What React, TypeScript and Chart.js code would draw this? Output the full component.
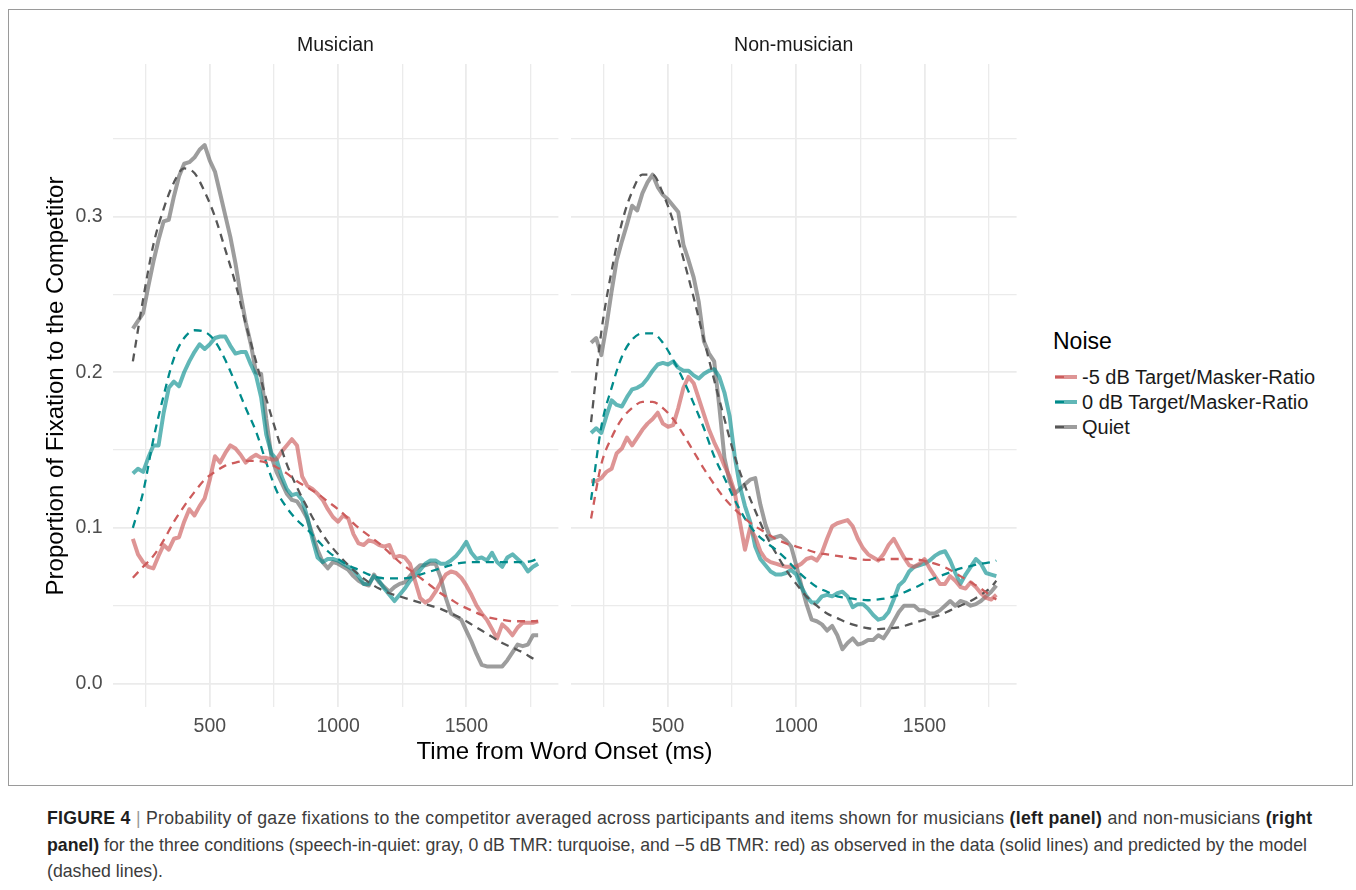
import React, { useEffect, useRef } from "react";
import { Chart, registerables } from "chart.js";

Chart.register(...registerables);

const FONT = "'Liberation Sans', Arial, Helvetica, sans-serif";

// ---------- data ----------
const panelNames = ["Musician", "Non-musician"];
const conditionLabels = ["-5 dB Target/Masker-Ratio", "0 dB Target/Masker-Ratio", "Quiet"];
const xTickLabels = [500, 1000, 1500];
const xGridTicks = [250, 500, 750, 1000, 1250, 1500, 1750];
const yTickLabels = [0.0, 0.1, 0.2, 0.3];
const yGridTicks = [0.0, 0.05, 0.1, 0.15, 0.2, 0.25, 0.3, 0.35];

const obsTime = [
  200, 220, 240, 260, 280, 300, 320, 340, 360, 380,
  400, 420, 440, 460, 480, 500, 520, 540, 560, 580,
  600, 620, 640, 660, 680, 700, 720, 740, 760, 780,
  800, 820, 840, 860, 880, 900, 920, 940, 960, 980,
  1000, 1020, 1040, 1060, 1080, 1100, 1120, 1140, 1160, 1180,
  1200, 1220, 1240, 1260, 1280, 1300, 1320, 1340, 1360, 1380,
  1400, 1420, 1440, 1460, 1480, 1500, 1520, 1540, 1560, 1580,
  1600, 1620, 1640, 1660, 1680, 1700, 1720, 1740, 1760, 1780,
];

const fitTime = [
  200, 240, 280, 320, 360, 400, 440, 480, 520, 560,
  600, 640, 680, 720, 760, 800, 840, 880, 920, 960,
  1000, 1040, 1080, 1120, 1160, 1200, 1240, 1280, 1320, 1360,
  1400, 1440, 1480, 1520, 1560, 1600, 1640, 1680, 1720, 1760,
  1780,
];

// Musician – observed
const musM5Obs = [
  0.093, 0.083, 0.078, 0.075, 0.074, 0.082, 0.089, 0.086, 0.093, 0.094,
  0.104, 0.112, 0.108, 0.114, 0.119, 0.131, 0.146, 0.142, 0.148, 0.153,
  0.151, 0.147, 0.142, 0.145, 0.147, 0.145, 0.145, 0.144, 0.144, 0.149,
  0.153, 0.157, 0.153, 0.133, 0.127, 0.125, 0.122, 0.118, 0.112, 0.107,
  0.104, 0.108, 0.106, 0.096, 0.090, 0.089, 0.092, 0.091, 0.089, 0.088,
  0.089, 0.081, 0.082, 0.081, 0.077, 0.066, 0.055, 0.052, 0.054, 0.059,
  0.065, 0.070, 0.072, 0.071, 0.068, 0.063, 0.057, 0.050, 0.045, 0.041,
  0.035, 0.029, 0.038, 0.035, 0.031, 0.036, 0.039, 0.039, 0.039, 0.040,
];
const mus0Obs = [
  0.135, 0.138, 0.136, 0.145, 0.153, 0.153, 0.174, 0.190, 0.194, 0.191,
  0.200, 0.207, 0.213, 0.218, 0.215, 0.218, 0.222, 0.223, 0.223, 0.217,
  0.212, 0.213, 0.213, 0.205, 0.198, 0.184, 0.160, 0.148, 0.144, 0.133,
  0.125, 0.121, 0.122, 0.118, 0.107, 0.093, 0.081, 0.078, 0.080, 0.080,
  0.079, 0.077, 0.075, 0.073, 0.069, 0.064, 0.064, 0.069, 0.066, 0.061,
  0.057, 0.053, 0.057, 0.061, 0.066, 0.069, 0.073, 0.077, 0.079, 0.079,
  0.077, 0.077, 0.079, 0.082, 0.086, 0.091, 0.084, 0.080, 0.081, 0.079,
  0.084, 0.078, 0.075, 0.081, 0.083, 0.080, 0.077, 0.072, 0.075, 0.077,
];
const musQuietObs = [
  0.228, 0.233, 0.238, 0.255, 0.271, 0.285, 0.297, 0.298, 0.313, 0.326,
  0.334, 0.335, 0.338, 0.343, 0.346, 0.336, 0.329, 0.315, 0.301, 0.287,
  0.270, 0.250, 0.232, 0.218, 0.200, 0.199, 0.170, 0.146, 0.136, 0.129,
  0.122, 0.118, 0.117, 0.112, 0.106, 0.096, 0.086, 0.078, 0.074, 0.078,
  0.077, 0.075, 0.073, 0.069, 0.066, 0.064, 0.063, 0.070, 0.065, 0.062,
  0.059, 0.062, 0.064, 0.065, 0.069, 0.073, 0.076, 0.076, 0.077, 0.077,
  0.068, 0.055, 0.045, 0.043, 0.041, 0.034, 0.027, 0.019, 0.012, 0.011,
  0.011, 0.011, 0.011, 0.015, 0.020, 0.025, 0.024, 0.025, 0.031, 0.031,
];

// Musician – model
const musM5Fit = [
  0.068, 0.075, 0.082, 0.092, 0.104, 0.114, 0.123, 0.131, 0.136, 0.140,
  0.142, 0.143, 0.143, 0.142, 0.139, 0.135, 0.130, 0.126, 0.122, 0.117,
  0.112, 0.106, 0.100, 0.095, 0.090, 0.084, 0.078, 0.073, 0.068, 0.063,
  0.058, 0.054, 0.050, 0.047, 0.044, 0.042, 0.041, 0.040, 0.040, 0.040,
  0.040,
];
const mus0Fit = [
  0.100, 0.123, 0.157, 0.185, 0.209, 0.222, 0.227, 0.226, 0.220, 0.208,
  0.193, 0.177, 0.162, 0.142, 0.124, 0.113, 0.105, 0.099, 0.092, 0.085,
  0.080, 0.076, 0.073, 0.070, 0.068, 0.0675, 0.0675, 0.068, 0.070, 0.072,
  0.074, 0.076, 0.0775, 0.078, 0.078, 0.078, 0.078, 0.078, 0.078, 0.079,
  0.0805,
];
const musQuietFit = [
  0.207, 0.247, 0.282, 0.305, 0.322, 0.331, 0.328, 0.316, 0.300, 0.279,
  0.257, 0.231, 0.207, 0.183, 0.161, 0.141, 0.126, 0.113, 0.101, 0.091,
  0.083, 0.076, 0.070, 0.065, 0.061, 0.058, 0.056, 0.054, 0.052, 0.050,
  0.048, 0.045, 0.042, 0.038, 0.034, 0.030, 0.026, 0.023, 0.020, 0.016,
  0.0145,
];

// Non-musician – observed
const nonM5Obs = [
  0.130, 0.130, 0.132, 0.136, 0.138, 0.148, 0.151, 0.158, 0.153, 0.158,
  0.163, 0.167, 0.170, 0.174, 0.167, 0.165, 0.166, 0.177, 0.190, 0.197,
  0.193, 0.183, 0.173, 0.163, 0.155, 0.148, 0.140, 0.133, 0.123, 0.104,
  0.086, 0.100, 0.094, 0.085, 0.080, 0.078, 0.077, 0.076, 0.075, 0.075,
  0.075, 0.077, 0.080, 0.081, 0.079, 0.084, 0.093, 0.101, 0.103, 0.104,
  0.105, 0.101, 0.093, 0.087, 0.083, 0.081, 0.079, 0.083, 0.089, 0.093,
  0.087, 0.081, 0.076, 0.075, 0.077, 0.080, 0.074, 0.069, 0.064, 0.064,
  0.069, 0.066, 0.062, 0.061, 0.065, 0.062, 0.058, 0.055, 0.054, 0.057,
];
const non0Obs = [
  0.161, 0.164, 0.161, 0.172, 0.182, 0.179, 0.178, 0.184, 0.189, 0.190,
  0.192, 0.196, 0.201, 0.205, 0.206, 0.205, 0.207, 0.203, 0.201, 0.201,
  0.198, 0.196, 0.199, 0.201, 0.202, 0.197, 0.187, 0.172, 0.146, 0.127,
  0.114, 0.104, 0.088, 0.080, 0.076, 0.072, 0.070, 0.070, 0.071, 0.073,
  0.070, 0.062, 0.056, 0.052, 0.052, 0.056, 0.057, 0.056, 0.058, 0.059,
  0.056, 0.049, 0.051, 0.051, 0.048, 0.044, 0.041, 0.042, 0.046, 0.054,
  0.063, 0.066, 0.072, 0.075, 0.076, 0.077, 0.079, 0.082, 0.084, 0.085,
  0.079, 0.071, 0.064, 0.070, 0.075, 0.080, 0.077, 0.071, 0.070, 0.069,
];
const nonQuietObs = [
  0.219, 0.222, 0.211, 0.230, 0.252, 0.272, 0.284, 0.295, 0.307, 0.304,
  0.315, 0.322, 0.327, 0.319, 0.314, 0.311, 0.307, 0.303, 0.282, 0.272,
  0.261, 0.245, 0.220, 0.212, 0.207, 0.178, 0.145, 0.130, 0.122, 0.125,
  0.128, 0.131, 0.132, 0.115, 0.102, 0.093, 0.094, 0.095, 0.092, 0.088,
  0.076, 0.063, 0.051, 0.041, 0.040, 0.038, 0.034, 0.037, 0.031, 0.022,
  0.026, 0.029, 0.025, 0.026, 0.028, 0.028, 0.031, 0.029, 0.034, 0.040,
  0.046, 0.050, 0.050, 0.050, 0.047, 0.047, 0.045, 0.045, 0.047, 0.050,
  0.053, 0.050, 0.053, 0.052, 0.050, 0.051, 0.053, 0.056, 0.059, 0.063,
];

// Non-musician – model
const nonM5Fit = [
  0.106, 0.141, 0.158, 0.170, 0.177, 0.181, 0.181, 0.177, 0.170, 0.160,
  0.149, 0.138, 0.128, 0.119, 0.112, 0.106, 0.101, 0.097, 0.093, 0.090,
  0.088, 0.086, 0.084, 0.083, 0.082, 0.081, 0.080, 0.0795, 0.0795, 0.080,
  0.080, 0.080, 0.0795, 0.078, 0.076, 0.073, 0.069, 0.065, 0.061, 0.056,
  0.054,
];
const non0Fit = [
  0.118, 0.165, 0.190, 0.210, 0.221, 0.225, 0.225, 0.219, 0.208, 0.195,
  0.180, 0.164, 0.146, 0.132, 0.118, 0.106, 0.097, 0.091, 0.086, 0.080,
  0.073, 0.067, 0.062, 0.059, 0.056, 0.055, 0.054, 0.0535, 0.054, 0.055,
  0.057, 0.060, 0.063, 0.0665, 0.069, 0.0715, 0.074, 0.0755, 0.077, 0.078,
  0.079,
];
const nonQuietFit = [
  0.168, 0.226, 0.265, 0.296, 0.316, 0.327, 0.327, 0.315, 0.297, 0.273,
  0.248, 0.221, 0.195, 0.170, 0.146, 0.127, 0.111, 0.096, 0.084, 0.073,
  0.064, 0.056, 0.050, 0.045, 0.042, 0.039, 0.037, 0.0355, 0.035, 0.0355,
  0.036, 0.038, 0.040, 0.042, 0.044, 0.047, 0.050, 0.053, 0.057, 0.062,
  0.066,
];

// ---------- styles ----------
const OBS_COLORS = ["rgba(205,92,92,0.65)", "rgba(0,139,139,0.62)", "rgba(105,105,105,0.65)"];
const FIT_COLORS = ["#CD5C5C", "#008B8B", "#575757"];

const X_MIN = 121;
const X_MAX = 1859;
const Y_MIN = -0.0151;
const Y_MAX = 0.3981;

function toPoints(times: number[], vals: number[]) {
  return times.map((t, i) => ({ x: t, y: vals[i] }));
}

function buildDatasets(obs: number[][], fit: number[][]) {
  const ds: any[] = [];
  fit.forEach((vals, i) => {
    ds.push({
      label: conditionLabels[i] + " (model)",
      data: toPoints(fitTime, vals),
      borderColor: FIT_COLORS[i],
      borderWidth: 2.3,
      borderDash: [8, 6],
      cubicInterpolationMode: "monotone",
      pointRadius: 0,
      fill: false,
      order: 0,
    });
  });
  obs.forEach((vals, i) => {
    ds.push({
      label: conditionLabels[i],
      data: toPoints(obsTime, vals),
      borderColor: OBS_COLORS[i],
      borderWidth: 4,
      borderJoinStyle: "round",
      tension: 0,
      pointRadius: 0,
      fill: false,
      order: 1,
    });
  });
  return ds;
}

const isMajorX = (v: number) => xTickLabels.indexOf(Math.round(v)) >= 0;
const isMajorY = (v: number) => yTickLabels.some((t) => Math.abs(t - v) < 1e-6);

function makeConfig(datasets: any[], showY: boolean, yWidth: number, padRight: number): any {
  return {
    type: "line",
    data: { datasets },
    options: {
      animation: false,
      responsive: false,
      maintainAspectRatio: false,
      devicePixelRatio: 1,
      layout: { padding: { top: 34, right: padRight, bottom: 0, left: 0 } },
      plugins: { legend: { display: false }, tooltip: { enabled: false } },
      elements: { point: { radius: 0 } },
      scales: {
        x: {
          type: "linear",
          min: X_MIN,
          max: X_MAX,
          border: { display: false },
          grid: {
            color: "#EBEBEB",
            drawTicks: false,
            lineWidth: (ctx: any) => (ctx.tick && isMajorX(ctx.tick.value) ? 1.8 : 1.3),
          },
          afterBuildTicks: (s: any) => {
            s.ticks = xGridTicks.map((v) => ({ value: v }));
          },
          ticks: {
            autoSkip: false,
            maxRotation: 0,
            padding: 7.6,
            color: "#4D4D4D",
            font: { family: FONT, size: 19.5 },
            callback: (v: any) => (isMajorX(Number(v)) ? String(Math.round(Number(v))) : ""),
          },
          afterFit: (s: any) => {
            s.height = 43;
          },
        },
        y: {
          type: "linear",
          min: Y_MIN,
          max: Y_MAX,
          border: { display: false },
          grid: {
            color: "#EBEBEB",
            drawTicks: false,
            lineWidth: (ctx: any) => (ctx.tick && isMajorY(ctx.tick.value) ? 1.8 : 1.3),
          },
          afterBuildTicks: (s: any) => {
            s.ticks = yGridTicks.map((v) => ({ value: v }));
          },
          ticks: {
            display: showY,
            autoSkip: false,
            padding: 10,
            color: "#4D4D4D",
            font: { family: FONT, size: 19.5 },
            callback: (v: any) => (isMajorY(Number(v)) ? Math.abs(Number(v)).toFixed(1) : ""),
          },
          afterFit: (s: any) => {
            s.width = yWidth;
          },
        },
      },
    },
  };
}

const abs = (l: number, t: number, extra: React.CSSProperties = {}): React.CSSProperties => ({
  position: "absolute",
  left: l,
  top: t,
  ...extra,
});

const BOLD: React.CSSProperties = { color: "#1E1E1E", fontWeight: 700 };

export default function App() {
  const leftRef = useRef<HTMLCanvasElement | null>(null);
  const rightRef = useRef<HTMLCanvasElement | null>(null);

  useEffect(() => {
    const charts: Chart[] = [];
    if (leftRef.current) {
      charts.push(
        new Chart(
          leftRef.current,
          makeConfig(
            buildDatasets([musM5Obs, mus0Obs, musQuietObs], [musM5Fit, mus0Fit, musQuietFit]),
            true,
            72.6,
            3.6
          )
        )
      );
    }
    if (rightRef.current) {
      charts.push(
        new Chart(
          rightRef.current,
          makeConfig(
            buildDatasets([nonM5Obs, non0Obs, nonQuietObs], [nonM5Fit, non0Fit, nonQuietFit]),
            false,
            10.8,
            5.4
          )
        )
      );
    }
    return () => charts.forEach((c) => c.destroy());
  }, []);

  const legendRowsTop = [366.7, 391.7, 416.7];

  return (
    <div
      style={{
        position: "absolute",
        left: 0,
        top: 0,
        width: 1356,
        height: 890,
        background: "#ffffff",
        overflow: "hidden",
        fontFamily: FONT,
      }}
    >
      {/* figure frame */}
      <div style={abs(8, 9, { width: 1343, height: 775, border: "1px solid #9a9a9a" })} />

      <canvas ref={leftRef} width={522} height={720} style={abs(40, 30, { width: 522, height: 720 })} />
      <canvas ref={rightRef} width={462} height={720} style={abs(560, 30, { width: 462, height: 720 })} />

      {/* strip labels */}
      <div style={abs(135.5, 35, { width: 400, textAlign: "center", fontSize: 19.5, lineHeight: "19.5px", color: "#1A1A1A" })}>
        {panelNames[0]}
      </div>
      <div style={abs(593.7, 35, { width: 400, textAlign: "center", fontSize: 19.5, lineHeight: "19.5px", color: "#1A1A1A" })}>
        {panelNames[1]}
      </div>

      {/* axis titles */}
      <div
        style={abs(55 - 300, 385.5 - 12, {
          width: 600,
          height: 24,
          lineHeight: "24px",
          fontSize: 24,
          textAlign: "center",
          color: "#000",
          transform: "rotate(-90deg)",
          transformOrigin: "50% 50%",
          whiteSpace: "nowrap",
        })}
      >
        Proportion of Fixation to the Competitor
      </div>
      <div
        style={abs(564.6 - 300, 738.7, {
          width: 600,
          lineHeight: "24px",
          fontSize: 24,
          textAlign: "center",
          color: "#000",
          whiteSpace: "nowrap",
        })}
      >
        Time from Word Onset (ms)
      </div>

      {/* legend */}
      <div style={abs(1053, 330.2, { fontSize: 23, lineHeight: "23px", color: "#000" })}>Noise</div>
      {conditionLabels.map((lab, i) => (
        <React.Fragment key={lab}>
          <div style={abs(1055, legendRowsTop[i] + 8, { width: 22, height: 4, background: OBS_COLORS[i] })} />
          <div style={abs(1055, legendRowsTop[i] + 9, { width: 9, height: 2.3, background: FIT_COLORS[i] })} />
          <div
            style={abs(1082, legendRowsTop[i], {
              fontSize: 20,
              lineHeight: "20px",
              color: "#1A1A1A",
              whiteSpace: "nowrap",
            })}
          >
            {lab}
          </div>
        </React.Fragment>
      ))}

      {/* caption */}
      <div
        style={abs(47, 805, {
          fontSize: 17.7,
          lineHeight: "26.5px",
          color: "#3C3C3C",
          whiteSpace: "nowrap",
        })}
      >
        <div style={{ letterSpacing: "0.27px" }}>
          <span style={BOLD}>FIGURE 4</span> <span style={{ color: "#9A9A9A" }}>|</span> Probability of gaze
          fixations to the competitor averaged across participants and items shown for musicians{" "}
          <span style={BOLD}>(left panel)</span> and non-musicians <span style={BOLD}>(right</span>
        </div>
        <div>
          <span style={BOLD}>panel)</span> for the three conditions (speech-in-quiet: gray, 0 dB TMR: turquoise,
          and −5 dB TMR: red) as observed in the data (solid lines) and predicted by the model
        </div>
        <div>(dashed lines).</div>
      </div>
    </div>
  );
}
